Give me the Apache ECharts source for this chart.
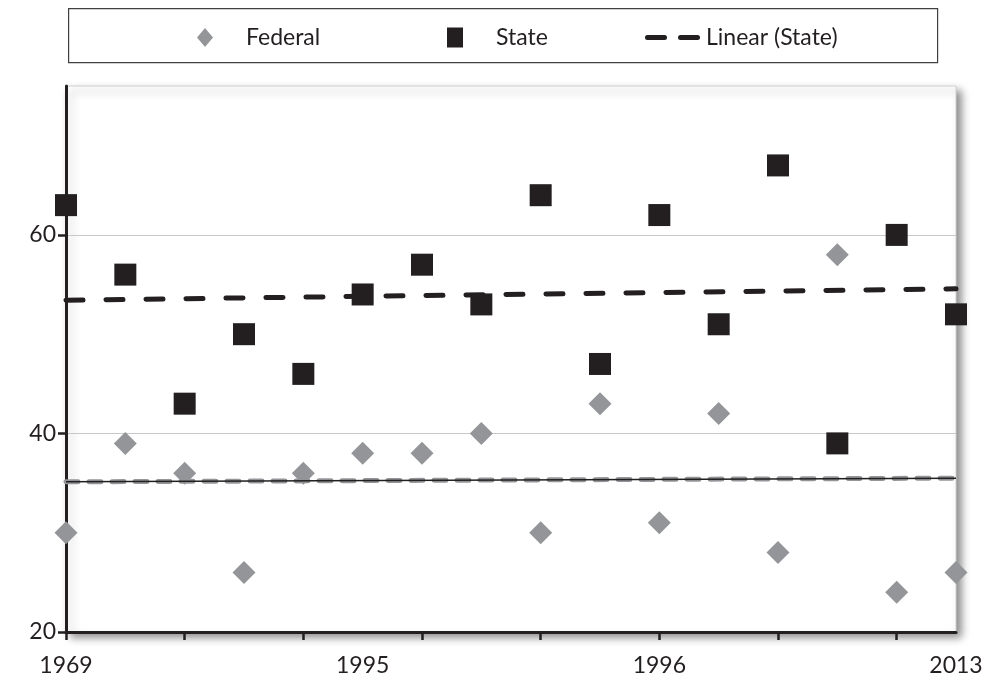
<!DOCTYPE html>
<html><head><meta charset="utf-8">
<script src="https://cdn.jsdelivr.net/npm/echarts@6/dist/echarts.min.js"></script>
<style>html,body{margin:0;padding:0;background:#fff}#c{width:990px;height:680px}</style>
</head><body><div id="c"></div>
<script>
// ---- data ----
const pointIndex = [0,1,2,3,4,5,6,7,8,9,10,11,12,13,14,15];
const federal = [30,39,36,26,36,38,38,40,30,43,31,42,28,58,24,26];
const state   = [63,56,43,50,46,54,57,53,64,47,62,51,67,39,60,52];
const xTickValues  = [0,2,4,6,8,10,12,14];
const xLabelValues = [0,5,10,15];
const xLabels      = ['1969','1995','1996','2013'];
const yTickValues  = [20,40,60];

// least-squares linear trendline (as Excel's "Linear" trendline)
function linearTrend(vals){
  const n = vals.length;
  const mx = pointIndex.reduce((s,v)=>s+v,0)/n;
  const my = vals.reduce((s,v)=>s+v,0)/n;
  let sxy=0, sxx=0;
  for(let i=0;i<n;i++){ sxy+=(pointIndex[i]-mx)*(vals[i]-my); sxx+=(pointIndex[i]-mx)**2; }
  const b = sxy/sxx, a = my - b*mx;
  const x0 = pointIndex[0], x1 = pointIndex[n-1];
  return [[x0, a+b*x0],[x1, a+b*x1]];
}

const FONT = 'Lato';
const DARK = '#231f20';
const GRAY = '#939598';
const roundDash = 'path://M2.5,0H19.5A2.5,2.5 0 0 1 19.5,5H2.5A2.5,2.5 0 0 1 2.5,0Z M35.5,0H52.5A2.5,2.5 0 0 1 52.5,5H35.5A2.5,2.5 0 0 1 35.5,0Z';

const chart = echarts.init(document.getElementById('c'), null, {renderer:'canvas'});
chart.setOption({
  animation:false,
  backgroundColor:'#fff',
  textStyle:{fontFamily:FONT},
  graphic:[{
    type:'rect', left:68, top:8, z:-1,
    shape:{width:869, height:54},
    style:{fill:'#fff', stroke:'#404040', lineWidth:1.2}
  }],
  legend:[
    {data:[{name:'Federal', icon:'diamond', itemStyle:{opacity:1}}], left:192, top:21, itemWidth:16, itemHeight:19,
     textStyle:{fontFamily:FONT, fontSize:23, color:DARK, padding:[0,0,0,28]}},
    {data:[{name:'State', icon:'rect', itemStyle:{opacity:1}}], left:442, top:21, itemWidth:16, itemHeight:20,
     textStyle:{fontFamily:FONT, fontSize:23, color:DARK, padding:[0,0,0,28]}},
    {data:[{name:'Linear (State)', icon:roundDash, itemStyle:{opacity:1}}], left:640, top:21, itemWidth:55, itemHeight:5,
     textStyle:{fontFamily:FONT, fontSize:23, color:DARK, padding:[0,0,0,1]}}
  ],
  grid:{left:66, right:34, top:86, bottom:48, show:true, backgroundColor:'#fff',
        borderColor:'#d0d0d0', borderWidth:1,
        shadowColor:'rgba(0,0,0,0.45)', shadowBlur:8, shadowOffsetX:5, shadowOffsetY:5},
  xAxis:{
    type:'value', min:0, max:15, interval:1,
    axisLine:{show:true, onZero:false, lineStyle:{color:DARK, width:3}},
    axisTick:{show:true, length:8, lineStyle:{color:DARK, width:2.5}, customValues:xTickValues},
    axisLabel:{show:true, customValues:xLabelValues, margin:22, fontFamily:FONT, fontSize:23, color:DARK,
      formatter:(v)=>{ const i = xLabelValues.indexOf(v); return i>=0 ? xLabels[i] : ''; }},
    splitLine:{show:false}
  },
  yAxis:{
    type:'value', min:20, max:75, interval:20,
    axisLine:{show:true, onZero:false, lineStyle:{color:DARK, width:3}},
    axisTick:{show:true, length:8, lineStyle:{color:DARK, width:2.5}, customValues:yTickValues},
    axisLabel:{show:true, customValues:yTickValues, margin:10, fontFamily:FONT, fontSize:23, color:DARK},
    splitLine:{show:true, lineStyle:{color:'#c8c8c8', width:1}}
  },
  series:[
    {name:'Federal', type:'scatter', symbol:'diamond', symbolSize:23, z:3,
     itemStyle:{color:GRAY, opacity:1}, data:pointIndex.map((x,i)=>[x, federal[i]])},
    {name:'State', type:'scatter', symbol:'rect', symbolSize:22, z:3,
     itemStyle:{color:DARK, opacity:1}, data:pointIndex.map((x,i)=>[x, state[i]])},
    {name:'Linear (Federal)', type:'line', symbol:'none', silent:true, z:4,
     lineStyle:{color:GRAY, width:5, type:[12,11], cap:'round'}, data:linearTrend(federal)},
    {name:'Linear (Federal) fit', type:'line', symbol:'none', silent:true, z:5,
     lineStyle:{color:DARK, width:1.5}, data:linearTrend(federal)},
    {name:'Linear (State)', type:'line', symbol:'none', silent:true, z:5, color:DARK,
     lineStyle:{color:DARK, width:5, type:[17,23], cap:'round'}, data:linearTrend(state)}
  ]
});
</script></body></html>
